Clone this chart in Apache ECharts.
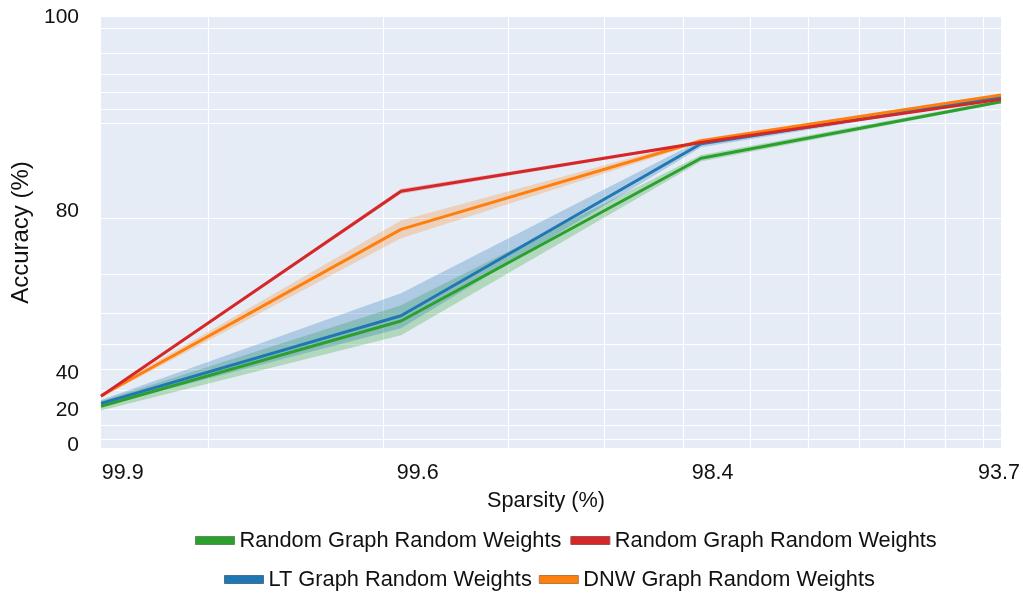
<!DOCTYPE html>
<html>
<head>
<meta charset="utf-8">
<script src="https://cdn.jsdelivr.net/npm/echarts@6/dist/echarts.min.js"></script>
<style>
html,body{margin:0;padding:0;background:#fff;}
#chart{width:1023px;height:596px;}
</style>
</head>
<body>
<div id="chart"></div>
<script>
// ---- data ----
const xValues = [1.5625, 3.125, 6.25, 12.5];           // underlying x (log axis)
const sparsityLabels = ['99.9', '99.6', '98.4', '93.7']; // tick texts
const xLabelAt = [1.643, 3.248, 6.42, 12.44];           // where tick texts sit
const xGridValues = [2, 3, 4, 5, 6, 7, 8, 9, 10, 11, 12];

const yTickLabels = ['0', '20', '40', '80', '100'];
const yLabelAt = [-4.2, 19.2, 38.3, 81.0, 95.39];       // accuracy where labels sit
const yGridValues = [95, 94, 93, 92, 91, 90, 80, 70, 60, 50, 40, 30, 20, 10, 0];
const yTopAcc = 95.39, yBottomAcc = -6.4;

const greenName = 'Random Graph Random Weights';
const greenMean = [21.5, 57.8, 87.1, 91.46];
const greenLo   = [19.0, 53.2, 86.8, 91.36];
const greenHi   = [24.5, 62.4, 87.4, 91.56];

const redName = 'Random Graph Random Weights\u200B';
const redMean = [27.0, 83.6, 88.5, 91.6];
const redLo   = [26.7, 83.3, 88.4, 91.55];
const redHi   = [27.3, 83.9, 88.6, 91.66];

const blueName = 'LT Graph Random Weights';
const blueMean = [23.1, 59.4, 88.4, 91.73];
const blueLo   = [21.3, 55.5, 88.1, 91.66];
const blueHi   = [25.0, 65.5, 88.7, 91.8];

const orangeName = 'DNW Graph Random Weights';
const orangeMean = [27.3, 78.35, 88.65, 91.87];
const orangeLo   = [26.3, 76.9, 88.5, 91.8];
const orangeHi   = [28.3, 79.7, 88.8, 91.94];

// ---- scales ----
const T = a => Math.log10(100 - a);  // accuracy -> log error (reversed axis)
const X = v => Math.log10(v);

const C = {green:'#2ca02c', red:'#d62728', blue:'#1f77b4', orange:'#ff7f0e'};
const FONT = '"Liberation Sans", Arial, sans-serif';
const TXT = '#111111';

function nearestLabel(v, at, labels){
  let bi = 0, bd = Infinity;
  at.forEach((a, i) => { const d = Math.abs(a - v); if (d < bd) { bd = d; bi = i; } });
  return labels[bi];
}

function band(lo, hi, color){
  return {
    type: 'custom', silent: true, z: 1, clip: true,
    data: [[X(xValues[0]), T(hi[0])]],
    renderItem: function(params, api){
      const pts = [];
      for (let i = 0; i < xValues.length; i++) pts.push(api.coord([X(xValues[i]), T(hi[i])]));
      for (let i = xValues.length - 1; i >= 0; i--) pts.push(api.coord([X(xValues[i]), T(lo[i])]));
      return {type: 'polygon', shape: {points: pts}, style: {fill: color}};
    }
  };
}
function line(name, mean, color, z){
  return {
    name: name, type: 'line', showSymbol: false, z: z,
    data: xValues.map((x, i) => [X(x), T(mean[i])]),
    lineStyle: {color: color, width: 3}, itemStyle: {color: color},
    emphasis: {disabled: true}
  };
}

const chart = echarts.init(document.getElementById('chart'), null, {renderer: 'canvas'});
chart.setOption({
  animation: false,
  textStyle: {fontFamily: FONT},
  grid: {left: 101, right: 22, top: 17, bottom: 148, show: true, backgroundColor: '#E5ECF6', borderWidth: 0, outerBoundsMode: 'none'},
  xAxis: {
    type: 'value', min: X(xValues[0]), max: X(xValues[xValues.length - 1]),
    axisLine: {show: false},
    axisTick: {show: false, customValues: xGridValues.map(X)},
    splitLine: {show: true, lineStyle: {color: '#ffffff', width: 1.2}},
    axisLabel: {
      customValues: xLabelAt.map(X), margin: 14,
      fontSize: 21.5, color: TXT, fontFamily: FONT,
      formatter: v => nearestLabel(v, xLabelAt.map(X), sparsityLabels)
    },
    name: 'Sparsity (%)', nameLocation: 'middle', nameGap: 42,
    nameTextStyle: {fontSize: 21.7, color: TXT, fontFamily: FONT, padding: [0, 10, 0, 0]}
  },
  yAxis: {
    type: 'value', inverse: true, min: T(yTopAcc), max: T(yBottomAcc),
    axisLine: {show: false},
    axisTick: {show: false, customValues: yGridValues.map(T)},
    splitLine: {show: true, lineStyle: {color: '#ffffff', width: 1.2}},
    axisLabel: {
      customValues: yLabelAt.map(T), margin: 22,
      fontSize: 21, color: TXT, fontFamily: FONT,
      formatter: v => nearestLabel(v, yLabelAt.map(T), yTickLabels)
    },
    name: 'Accuracy (%)', nameLocation: 'middle', nameGap: 68, nameRotate: 90,
    nameTextStyle: {fontSize: 24, color: TXT, fontFamily: FONT}
  },
  legend: [
    {
      left: 195, top: 529.5, padding: 0, itemWidth: 39, itemHeight: 8, itemGap: 9,
      textStyle: {fontSize: 21.8, color: TXT, fontFamily: FONT},
      formatter: n => n.replace('\u200B', ''),
      data: [
        {name: greenName, icon: 'rect', itemStyle: {color: C.green, borderColor: '#5a8f5a', borderWidth: 1}},
        {name: redName, icon: 'rect', itemStyle: {color: C.red, borderColor: '#a05050', borderWidth: 1}}
      ],
      selectedMode: false
    },
    {
      left: 224, top: 568.5, padding: 0, itemWidth: 39, itemHeight: 8, itemGap: 7,
      textStyle: {fontSize: 21.8, color: TXT, fontFamily: FONT},
      data: [
        {name: blueName, icon: 'rect', itemStyle: {color: C.blue, borderColor: '#4a6f8f', borderWidth: 1}},
        {name: orangeName, icon: 'rect', itemStyle: {color: C.orange, borderColor: '#b07a4a', borderWidth: 1}}
      ],
      selectedMode: false
    }
  ],
  series: [
    band(greenLo, greenHi, 'rgba(44,160,44,0.28)'),
    band(blueLo, blueHi, 'rgba(31,119,180,0.28)'),
    band(orangeLo, orangeHi, 'rgba(255,127,14,0.25)'),
    band(redLo, redHi, 'rgba(214,39,40,0.25)'),
    line(greenName, greenMean, C.green, 3),
    line(blueName, blueMean, C.blue, 4),
    line(orangeName, orangeMean, C.orange, 5),
    line(redName, redMean, C.red, 6)
  ]
});
</script>
</body>
</html>
